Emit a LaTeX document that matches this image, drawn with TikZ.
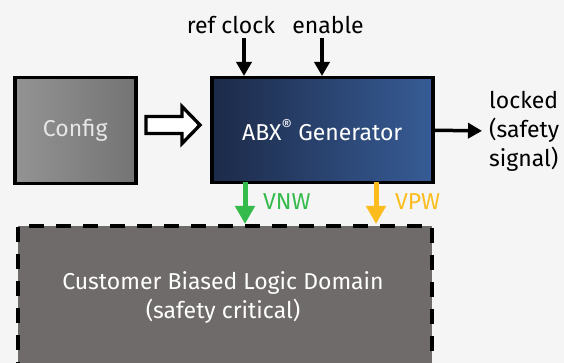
\documentclass[tikz,border=0pt]{standalone}
\usepackage{fontspec}
\setmainfont{Fira Sans}
\usetikzlibrary{arrows.meta}
\definecolor{bg}{HTML}{F5F5F5}
\definecolor{cfgL}{HTML}{939393}
\definecolor{cfgR}{HTML}{747474}
\definecolor{abxL}{HTML}{1C2A48}
\definecolor{abxR}{HTML}{375C96}
\definecolor{cust}{HTML}{6F6B6A}
\definecolor{vnw}{HTML}{35BB4C}
\definecolor{vpw}{HTML}{FBBD1D}
\definecolor{cfgtext}{HTML}{E6E6E6}
\tikzset{
  boxed/.style={draw=black,line width=3.5pt,inner sep=0pt,anchor=north west},
  lbl/.style={font=\fontsize{23}{29}\selectfont,inner sep=0pt},
  sig/.style={line width=3.5pt,-{Triangle[length=14pt,width=15pt]}},
  pwr/.style={line width=5pt,-{Triangle[length=18pt,width=19pt]}},
}
\begin{document}
\begin{tikzpicture}[x=1pt,y=-1pt]
\useasboundingbox (0,0) rectangle (564,363);
\clip (0,0) rectangle (564,363);
\fill[bg] (0,0) rectangle (564,363);
% Customer domain
\node[boxed,dash pattern=on 15pt off 12pt,fill=cust,minimum width=414pt,minimum height=170pt] (cust) at (16,224) {};
\node[lbl,text=white,align=center] (custtext) at (223,297) {Customer Biased Logic Domain\\(safety critical)};
% Config
\node[boxed,left color=cfgL,right color=cfgR,minimum width=121pt,minimum height=106pt] (cfg) at (13,76) {};
\node[lbl,text=cfgtext] (cfgtext) at (cfg.center) {Config};
% ABX
\node[boxed,left color=abxL,right color=abxR,minimum width=221pt,minimum height=105pt] (abx) at (210,76) {};
\node[lbl,text=white] (abxtext) at (abx.center) {ABX\textsuperscript{®} Generator};
% hollow arrow
\coordinate (ha) at (146,125);
\draw[line width=3.3pt,fill=white,line join=miter] (ha) ++(0,-8.5) -- ++(36,0) -- ++(0,-10) -- (200,125) -- (182,143.5) -- ++(0,-10) -- ++(-36,0) -- cycle;
% inputs
\node[lbl] (ref) at (231,25) {ref clock};
\node[lbl] (en) at (328,25) {enable};
\coordinate (refs) at (244,38);
\coordinate (ens) at (322,38);
\draw[sig] (refs) -- (refs |- abx.north);
\draw[sig] (ens) -- (ens |- abx.north);
% locked
\node[lbl,align=left,anchor=west] (lock) at (489,131) {locked\\(safety\\signal)};
\draw[sig,shorten >=7pt] (abx.east) -- (lock.west);
% VNW / VPW
\coordinate (vn) at (245,182);
\coordinate (vp) at (376,182);
\draw[pwr,draw=vnw,fill=vnw] (vn) -- (vn |- cust.north);
\draw[pwr,draw=vpw,fill=vpw] (vp) -- (vp |- cust.north);
\node[lbl,text=vnw,anchor=west] (vnwt) at (263,202) {VNW};
\node[lbl,text=vpw,anchor=west] (vpwt) at (395,202) {VPW};
\end{tikzpicture}
\end{document}
